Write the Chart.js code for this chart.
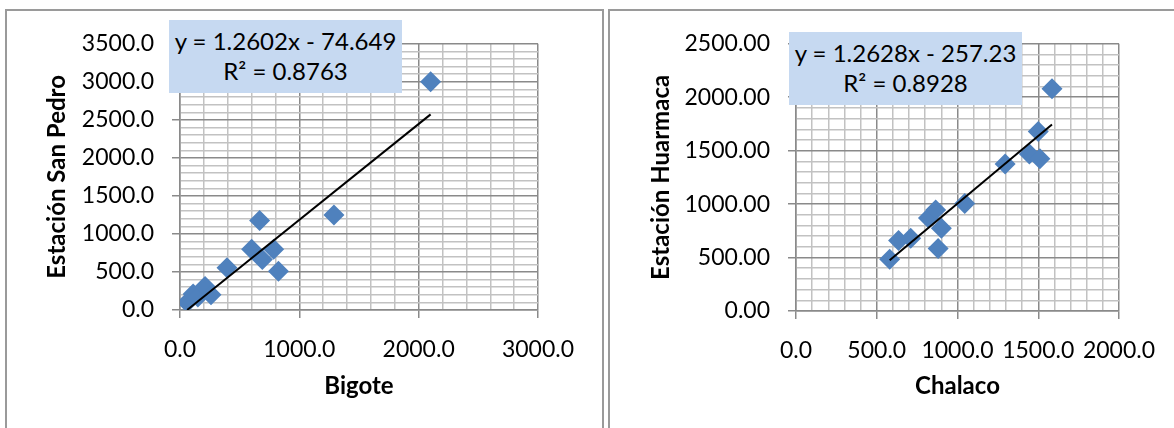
<!DOCTYPE html>
<html>
<head>
<meta charset="utf-8">
<script src="https://cdn.jsdelivr.net/npm/chart.js@4"></script>
<style>
  body { margin: 0; background: #fff; width: 1174px; height: 428px; overflow: hidden; position: relative; font-family: 'Lato', sans-serif; }
  .panel { position: absolute; border: 2px solid #9a9a9a; box-sizing: border-box; }
  canvas { position: absolute; }
  .eq { position: absolute; background: #c6d9f1; color: #000; font-size: 24px; line-height: 30px;
        text-align: center; box-sizing: border-box; padding-top: 6px; z-index: 2; white-space: nowrap; }
</style>
</head>
<body>
<div class="panel" style="left:5px; top:9px; width:599px; height:440px;"></div>
<div class="panel" style="left:608px; top:9px; width:600px; height:440px;"></div>
<canvas id="izq" width="592" height="416" style="left:8px; top:12px;"></canvas>
<canvas id="der" width="562" height="416" style="left:612px; top:12px;"></canvas>
<div class="eq" style="left:169px; top:20px; width:233px; height:73px;">y = 1.2602x - 74.649<br>R² = 0.8763</div>
<div class="eq" style="left:789px; top:32px; width:233px; height:73px;">y = 1.2628x - 257.23<br>R² = 0.8928</div>
<script>
// Bigote vs Estación San Pedro
const bigote   = [60, 110, 150, 210, 260, 394, 600, 667, 690, 785, 825, 1290, 2100];
const sanPedro = [100, 210, 170, 310, 200, 555, 800, 1178, 665, 800, 510, 1250, 3000];
const ajusteIzq = [1.2602, -74.649];

// Chalaco vs Estación Huarmaca
const chalaco  = [580, 635, 710, 820, 865, 880, 900, 1045, 1295, 1445, 1500, 1510, 1585];
const huarmaca = [485, 660, 680, 870, 945, 585, 775, 1005, 1375, 1470, 1680, 1425, 2080];
const ajusteDer = [1.2628, -257.23];

Chart.defaults.font.family = 'Lato';
Chart.defaults.color = '#000';

const esMayor = (v, paso) => Math.abs(v % paso) < 1e-6;

function eje(min, max, paso, mayor, dec, titulo, ajusteFit) {
  return {
    type: 'linear',
    min: min,
    max: max,
    afterFit: ajusteFit,
    title: { display: true, text: titulo, font: { size: 24, weight: 'bold' }, padding: { top: 4, bottom: 4 } },
    ticks: {
      stepSize: paso,
      autoSkip: false,
      maxRotation: 0,
      minRotation: 0,
      padding: 18,
      font: { size: 23 },
      callback: v => esMayor(v, mayor) ? v.toFixed(dec) : ''
    },
    grid: {
      lineWidth: 1.5,
      tickLength: 8,
      tickWidth: 1.5,
      color: ctx => ctx.tick && esMayor(ctx.tick.value, mayor) ? '#8a8a8a' : '#c2c2c2',
      tickColor: ctx => ctx.tick && esMayor(ctx.tick.value, mayor) ? '#8a8a8a' : 'rgba(0,0,0,0)'
    },
    border: { color: '#8a8a8a', width: 1.5 }
  };
}

function grafico(id, xs, ys, ajuste, ejeX, ejeY, padding) {
  const puntos = xs.map((x, i) => ({ x: x, y: ys[i] }));
  const xmin = Math.min(...xs), xmax = Math.max(...xs);
  const linea = [xmin, xmax].map(x => ({ x: x, y: ajuste[0] * x + ajuste[1] }));
  new Chart(document.getElementById(id), {
    type: 'scatter',
    data: {
      datasets: [
        { data: linea, showLine: true, borderColor: '#000', borderWidth: 2, pointRadius: 0, order: 0 },
        { data: puntos, pointStyle: 'rectRot', pointRadius: 10.5, backgroundColor: '#4f81bd', borderWidth: 0, order: 1 }
      ]
    },
    options: {
      responsive: false,
      animation: false,
      layout: { padding: padding },
      plugins: { legend: { display: false }, tooltip: { enabled: false } },
      scales: { x: ejeX, y: ejeY }
    }
  });
}

grafico('izq', bigote, sanPedro, ajusteIzq,
  eje(0, 3000, 200, 1000, 1, 'Bigote', s => { s.height = 95; }),
  eje(0, 3500, 100, 500, 1, 'Estación San Pedro', s => { s.width = 141; }),
  { left: 31, top: 28, right: 62, bottom: 23 });

grafico('der', chalaco, huarmaca, ajusteDer,
  eje(0, 2000, 100, 500, 1, 'Chalaco', s => { s.height = 94; }),
  eje(0, 2500, 100, 500, 2, 'Estación Huarmaca', s => { s.width = 153; }),
  { left: 31, top: 29, right: 55, bottom: 23 });
</script>
</body>
</html>
